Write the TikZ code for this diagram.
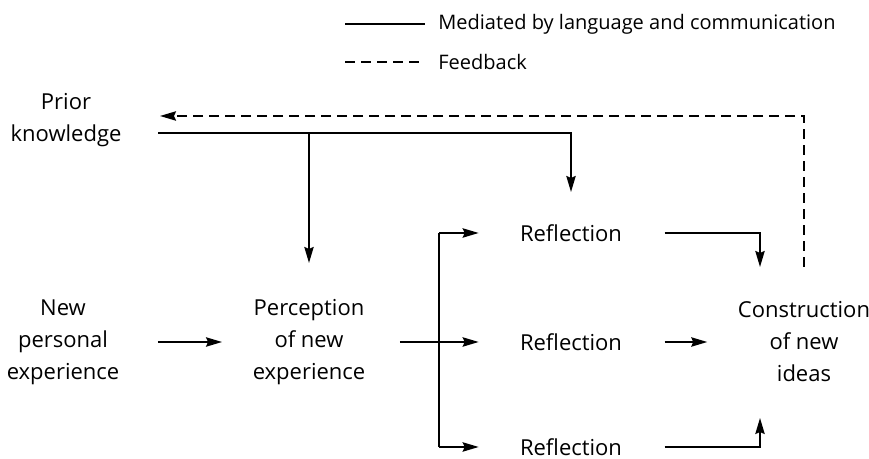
\documentclass[tikz,border=0pt]{standalone}
\usepackage{fontspec}
\setmainfont{Open Sans}
\usetikzlibrary{arrows.meta}

\begin{document}
\begin{tikzpicture}[x=0.75pt, y=-0.75pt, line width=1.4pt,
    >={Stealth[length=12pt,width=7pt,inset=1.5pt]},
    txt/.style={align=center, font=\fontsize{16.5}{24}\selectfont},
    legend/.style={font=\fontsize{15}{18}\selectfont, xshift=6pt},
    fb/.style={dash pattern=on 7.5pt off 4.5pt}]
    \useasboundingbox ( 0, 0 ) rectangle ( 869, 459 );

    % легенда
    \coordinate (solidA) at ( 345, 24 );
    \coordinate (solidB) at ( 425, 24 );
    \coordinate (dashA) at ( 345, 62 );
    \coordinate (dashB) at ( 425, 62 );
    \draw (solidA) -- (solidB);
    \draw [fb] (dashA) -- (dashB);
    \node [legend, right] (medlbl) at (solidB) {Mediated by language and communication};
    \node [legend, right] (fblbl) at (dashB) {Feedback};

    % узлы
    \node [txt] (prior) at ( 66, 120 ) {Prior\\knowledge};
    \node [txt] (new) at ( 63, 342 ) {New\\personal\\experience};
    \node [txt] (perc) at ( 309, 342 ) {Perception\\of new\\experience};
    \node [txt] (refl1) at ( 571, 233 ) {Reflection};
    \node [txt] (refl2) at ( 571, 342 ) {Reflection};
    \node [txt] (refl3) at ( 571, 447 ) {Reflection};
    \node [txt] (constr) at ( 804, 342 ) {Construction\\of new\\ideas};

    % точки излома
    \coordinate (pk) at ( 158, 133 );
    \coordinate (split) at ( 439, 342 );
    \coordinate (join) at ( 760, 342 );
    \coordinate (fbend) at ( 160, 116 );

    % prior knowledge
    \draw [->] (pk) -| (refl1 |- 0, 192);
    \draw [->] (perc |- pk) -- (perc |- 0, 263);

    % new -> perception
    \draw [->, shorten <=25pt, shorten >=19pt] (new.east) -- (perc.west);

    % развилка
    \draw [shorten <=22pt] (perc.east) -- (split);
    \draw (split |- refl1) -- (split |- refl3);
    \foreach \r in {refl1, refl2, refl3}
        \draw [->, shorten >=27pt] (split |- \r) -- (\r.west);

    % reflection -> construction
    \draw [->, shorten <=28pt] (refl1.east) -| (join |- 0, 267);
    \draw [->, shorten <=28pt, shorten >=19pt] (refl2.east) -- (constr.west);
    \draw [->, shorten <=28pt] (refl3.east) -| (join |- 0, 418);

    % обратная связь
    \draw [->, fb] (constr |- 0, 267) |- (fbend);
\end{tikzpicture}
\end{document}
